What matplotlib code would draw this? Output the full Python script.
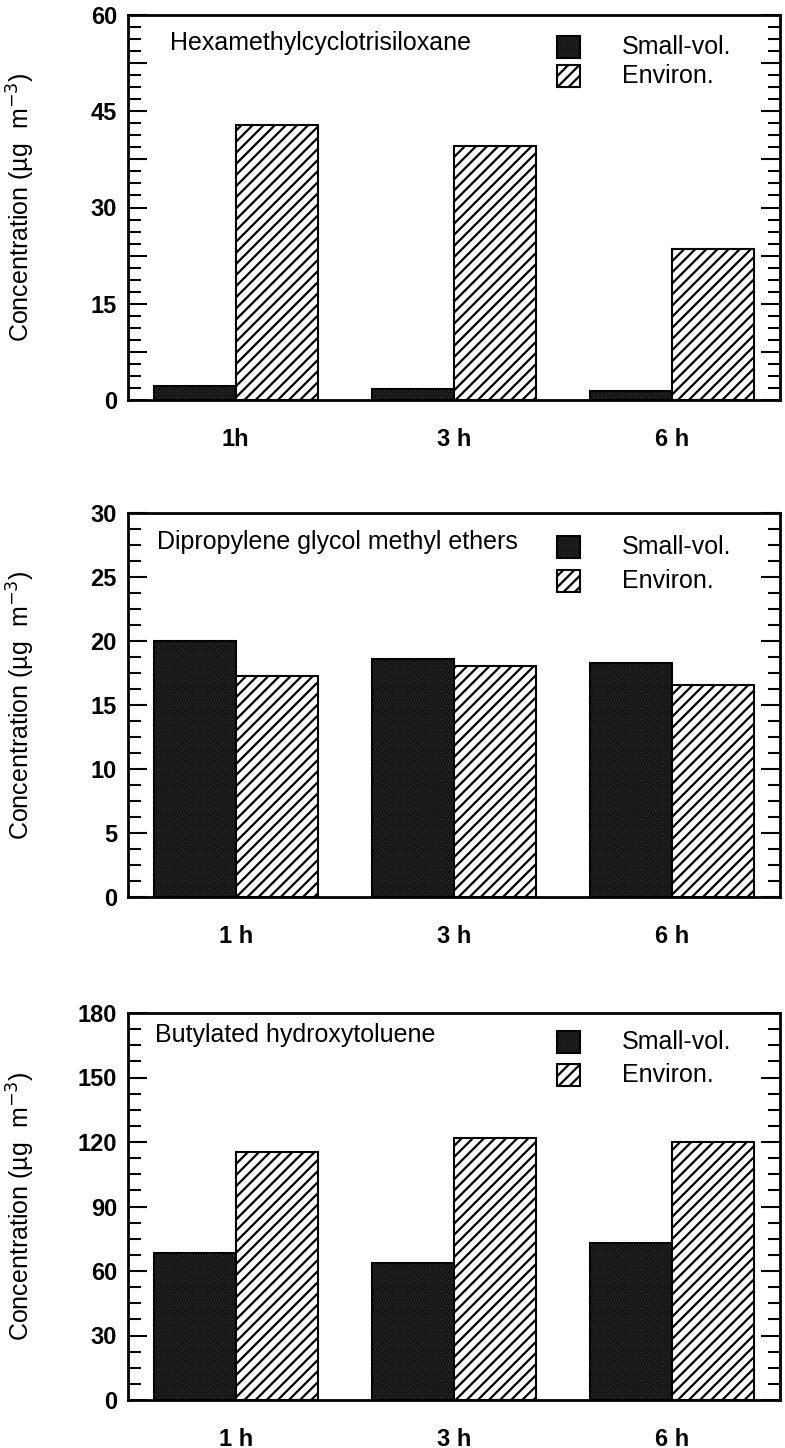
import numpy as np
import matplotlib
matplotlib.use('Agg')
import matplotlib.pyplot as plt
from matplotlib.patches import Rectangle
from matplotlib.ticker import MultipleLocator, FuncFormatter

plt.rcParams['font.family'] = ['Liberation Sans', 'DejaVu Sans']
plt.rcParams['hatch.linewidth'] = 1.6

times = ['1h', '3 h', '6 h']
times_b = ['1 h', '3 h', '6 h']

# panel 1: Hexamethylcyclotrisiloxane
hexa_small = [2.2, 1.7, 1.4]
hexa_env = [42.9, 39.6, 23.5]
# panel 2: Dipropylene glycol methyl ethers
dpgme_small = [20.0, 18.6, 18.3]
dpgme_env = [17.3, 18.05, 16.55]
# panel 3: Butylated hydroxytoluene
bht_small = [68.4, 63.7, 73.0]
bht_env = [115.3, 122.0, 120.0]

W, H = 785, 1448
fig = plt.figure(figsize=(W / 100, H / 100), dpi=100)

panels = [
    # name, small, env, xlabels, ymax, long tick, label step, minor, top px, bottom px, title pos, legend rows
    ('Hexamethylcyclotrisiloxane', hexa_small, hexa_env, times, 60, 7.5, 15, 1.875, 15, 400, (0.064, 0.927), (32, 61)),
    ('Dipropylene glycol methyl ethers', dpgme_small, dpgme_env, times_b, 30, 5, 5, 1.25, 513, 897, (0.044, 0.924), (34, 68)),
    ('Butylated hydroxytoluene', bht_small, bht_env, times_b, 180, 30, 30, 7.5, 1013, 1400, (0.041, 0.943), (29, 62)),
]

left_px, right_px = 128, 780
bw = 0.375
dark = '#3c3c3c'

for name, small, env, xl, ymax, longt, labstep, minor, top, bot, tpos, rows in panels:
    ax = fig.add_axes([left_px / W, (H - bot) / H, (right_px - left_px) / W, (bot - top) / H])
    x = np.arange(len(small))
    ax.bar(x - bw / 2, small, bw, facecolor=dark, edgecolor='black', hatch='......', linewidth=1.5)
    ax.bar(x + bw / 2, env, bw, facecolor='white', edgecolor='black', hatch='///', linewidth=1.5)
    ax.set_xlim(-0.493, 2.493)
    ax.set_ylim(0, ymax)
    ax.yaxis.set_major_locator(MultipleLocator(longt))
    ax.yaxis.set_minor_locator(MultipleLocator(minor))
    ax.yaxis.set_major_formatter(FuncFormatter(
        lambda v, p, s=labstep: '%d' % round(v) if abs(v / s - round(v / s)) < 1e-6 else ''))
    ax.tick_params(axis='y', which='major', direction='in', length=14, width=1.5,
                   left=True, right=True, labelsize=17, pad=8)
    ax.tick_params(axis='y', which='minor', direction='in', length=9, width=1.5,
                   left=True, right=True)
    ax.set_xticks(x)
    ax.set_xticklabels(xl, fontsize=17, fontweight='bold')
    ax.tick_params(axis='x', length=0, pad=20)
    for lbl in ax.get_yticklabels():
        lbl.set_fontweight('bold')
    for sp in ax.spines.values():
        sp.set_linewidth(2)
    ax.set_ylabel('Concentration (µg  m$^{-3}$)', fontsize=18)
    ax.yaxis.set_label_coords(-0.14, 0.5)

    hpx = bot - top
    ax.text(tpos[0], tpos[1], name, transform=ax.transAxes, fontsize=18,
            ha='left', va='center')
    ph = 22 / hpx
    for r, lab, fc, ht in [(rows[0], 'Small-vol.', dark, '......'),
                           (rows[1], 'Environ.', 'white', '///')]:
        yc = 1 - r / hpx
        ax.add_patch(Rectangle((0.658, yc - ph / 2), 0.035, ph, transform=ax.transAxes,
                               facecolor=fc, edgecolor='black', hatch=ht, linewidth=1.5,
                               clip_on=False))
        ax.text(0.758, yc, lab, transform=ax.transAxes, fontsize=18, ha='left', va='center')

fig.savefig('out.png', dpi=100)
